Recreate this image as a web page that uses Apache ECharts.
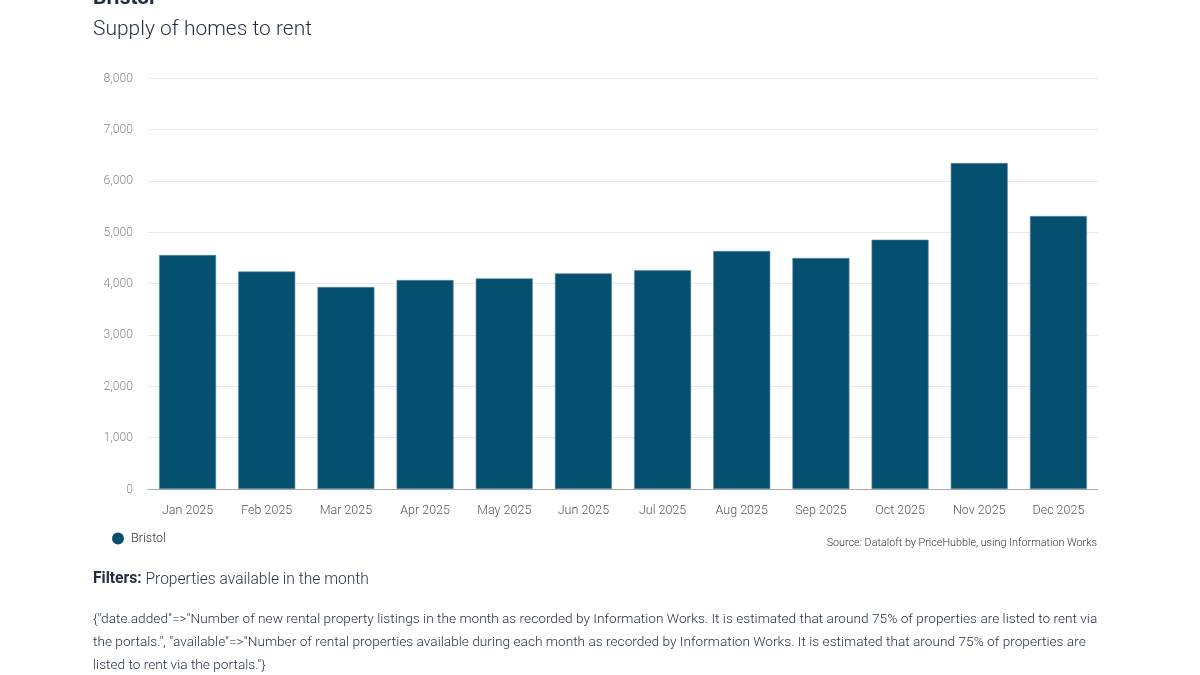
<!DOCTYPE html>
<html>
<head>
<meta charset="utf-8">
<script src="https://cdn.jsdelivr.net/npm/echarts@6/dist/echarts.min.js"></script>
<style>
html,body{margin:0;padding:0;background:#fff;}
#c{width:1200px;height:675px;}
</style>
</head>
<body>
<div id="c"></div>
<script>
const categories = ['Jan 2025','Feb 2025','Mar 2025','Apr 2025','May 2025','Jun 2025','Jul 2025','Aug 2025','Sep 2025','Oct 2025','Nov 2025','Dec 2025'];
const bristol = [4555, 4235, 3932, 4068, 4100, 4198, 4257, 4633, 4496, 4853, 6345, 5314];
const yTicks = [0, 1000, 2000, 3000, 4000, 5000, 6000, 7000, 8000];
const seriesName = 'Bristol';
const titleText = 'Bristol';
const subtitleText = 'Supply of homes to rent';
const sourceText = 'Source: Dataloft by PriceHubble, using Information Works';
const filterLabel = 'Filters:';
const filterText = ' Properties available in the month';
const noteLines = [
  '{"date.added"=>"Number of new rental property listings in the month as recorded by Information Works. It is estimated that around 75% of properties are listed to rent via',
  'the portals.", "available"=>"Number of rental properties available during each month as recorded by Information Works. It is estimated that around 75% of properties are',
  'listed to rent via the portals."}'
];

const chart = echarts.init(document.getElementById('c'));
const font = 'Roboto, "Noto Sans", sans-serif';
const light = '"Roboto Light", Roboto, "Noto Sans", sans-serif';
chart.setOption({
  animation: false,
  textStyle: { fontFamily: light },
  grid: { left: 148, right: 102, top: 78, bottom: 186, containLabel: false },
  legend: {
    data: [seriesName],
    left: 107, top: 527,
    icon: 'circle', itemWidth: 12, itemHeight: 12, itemGap: 8,
    itemStyle: { borderWidth: 0 },
    textStyle: { color: '#333', fontSize: 12.6, fontFamily: light, fontWeight: 300, padding: [0, 0, 0, 2] }
  },
  xAxis: {
    type: 'category',
    data: categories,
    axisLine: { lineStyle: { color: '#aaa' } },
    axisTick: { show: false },
    axisLabel: { color: '#555', fontSize: 12.5, margin: 15, fontFamily: light, fontWeight: 300 }
  },
  yAxis: {
    type: 'value',
    min: yTicks[0], max: yTicks[yTicks.length - 1], interval: 1000,
    axisLine: { show: false },
    axisTick: { show: false },
    splitLine: { lineStyle: { color: '#e8e8e8' } },
    axisLabel: { color: '#888', fontSize: 12.2, margin: 15, fontFamily: light, fontWeight: 300,
      formatter: v => v.toLocaleString('en-GB') }
  },
  series: [{
    name: seriesName,
    type: 'bar',
    data: bristol,
    barCategoryGap: '28%',
    itemStyle: { color: '#05506f', borderColor: '#5d8aa3', borderWidth: 0.6 }
  }],
  graphic: [
    { type: 'text', left: 93, top: -12, style: { text: titleText, font: 'bold 21px ' + font, fill: '#1f2d40' } },
    { type: 'text', left: 93, top: 18, style: { text: subtitleText, font: '300 21px ' + light, fill: '#1f2d40' } },
    { type: 'text', right: 103, top: 537, style: { text: sourceText, font: '300 10.8px ' + light, fill: '#333' } },
    { type: 'text', left: 93, top: 571, style: {
      text: '{b|' + filterLabel + '}{n|' + filterText + '}',
      rich: {
        b: { font: 'bold 15.6px ' + font, fill: '#1f2d40' },
        n: { font: '300 15.6px ' + light, fill: '#1f2d40' }
      }
    } },
    { type: 'text', left: 93, top: 607, style: {
      text: noteLines.join('\n'), font: '300 13.7px ' + light, fill: '#1f2d40', lineHeight: 23
    } }
  ]
});
</script>
</body>
</html>
